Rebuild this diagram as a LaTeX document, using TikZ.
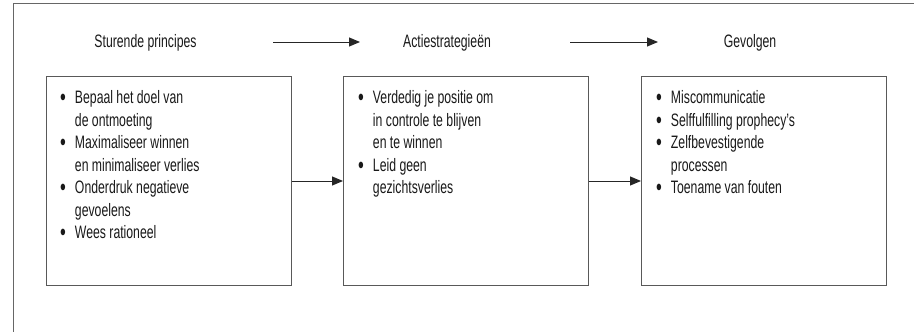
\documentclass[tikz,border=0pt]{standalone}
\usepackage{fontspec}
\setmainfont{Liberation Sans}[FakeStretch=0.68]
\usetikzlibrary{arrows.meta}
\newcommand{\bul}{\raisebox{-1.8pt}{\scalebox{1.35}{\textbullet}}}
\begin{document}
\begin{tikzpicture}[x=1pt,y=-1pt,
  every node/.style={inner sep=0pt,font=\fontsize{18}{22.5}\selectfont,text=black!90},
  frameline/.style={draw=black!60,line width=1pt},
  box/.style={draw=black!65,line width=1pt,minimum width=245pt,minimum height=209pt,anchor=north west},
  heading/.style={anchor=center},
  list/.style={anchor=north west,align=left},
  conn/.style={draw=black!85,line width=1pt,-{Triangle[length=11pt,width=9pt]}}
]
\useasboundingbox (0,0) rectangle (914,332);
% open frame
\coordinate (ftr) at (914,3.5);
\coordinate (ftl) at (13,3.5);
\coordinate (fbl) at (13,332);
\draw[frameline] (ftr) -- (ftl) -- (fbl);
% headings
\node[heading] (h1) at (145.5,43) {Sturende principes};
\node[heading] (h2) at (447,43) {Actiestrategieën};
\node[heading] (h3) at (750,43) {Gevolgen};
\coordinate (a1s) at (273,42);
\coordinate (a1e) at (360,42);
\coordinate (a2s) at (570,42);
\coordinate (a2e) at (658,42);
\draw[conn] (a1s) -- (a1e);
\draw[conn] (a2s) -- (a2e);
% boxes
\node[box] (b1) at (46,76) {};
\node[box] (b2) at (343,76) {};
\node[box] (b3) at (641,76) {};
\draw[conn] (b1.east) -- (b2.west);
\draw[conn] (b2.east) -- (b3.west);
% lists
\node[list] (l1) at ([xshift=14pt,yshift=-12pt]b1.north west) {%
\begin{tabular}{@{}l@{\hspace{9pt}}l@{}}
\bul & Bepaal het doel van\\
 & de ontmoeting\\
\bul & Maximaliseer winnen\\
 & en minimaliseer verlies\\
\bul & Onderdruk negatieve\\
 & gevoelens\\
\bul & Wees rationeel
\end{tabular}};
\node[list] (l2) at ([xshift=15pt,yshift=-12pt]b2.north west) {%
\begin{tabular}{@{}l@{\hspace{9pt}}l@{}}
\bul & Verdedig je positie om\\
 & in controle te blijven\\
 & en te winnen\\
\bul & Leid geen\\
 & gezichtsverlies
\end{tabular}};
\node[list] (l3) at ([xshift=15pt,yshift=-12pt]b3.north west) {%
\begin{tabular}{@{}l@{\hspace{9pt}}l@{}}
\bul & Miscommunicatie\\
\bul & Selffulfilling prophecy’s\\
\bul & Zelfbevestigende\\
 & processen\\
\bul & Toename van fouten
\end{tabular}};
\end{tikzpicture}
\end{document}
